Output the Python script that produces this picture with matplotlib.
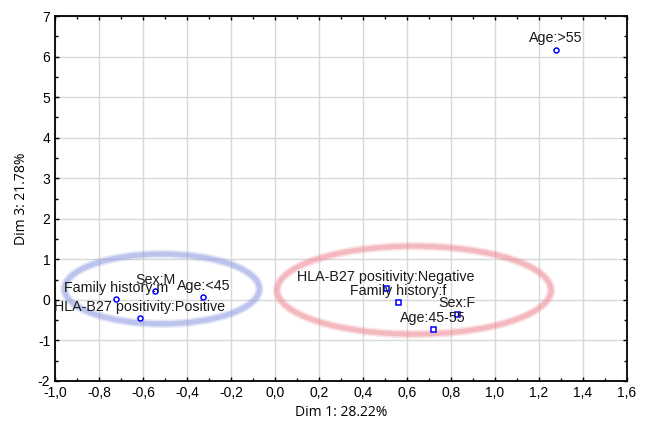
import matplotlib
matplotlib.use("Agg")
import matplotlib.pyplot as plt
from matplotlib.patches import Ellipse
from matplotlib.ticker import MultipleLocator, FuncFormatter

# coordinates of the categories (Dim 1, Dim 3)
circle_labels = ["Family history:m", "Sex:M", "Age:<45", "HLA-B27 positivity:Positive", "Age:>55"]
circle_x = [-0.723, -0.544, -0.326, -0.614, 1.277]
circle_y = [0.02, 0.217, 0.076, -0.456, 6.17]

square_labels = ["HLA-B27 positivity:Negative", "Family history:f", "Sex:F", "Age:45-55"]
square_x = [0.505, 0.558, 0.826, 0.717]
square_y = [0.298, -0.062, -0.350, -0.712]

x_label = "Dim 1: 28.22%"
y_label = "Dim 3: 21.78%"

plt.rcParams['font.family'] = ['Liberation Sans', 'DejaVu Sans']

fig = plt.figure(figsize=(6.46, 4.30), dpi=100)
ax = fig.add_axes([55 / 646, 1 - 381 / 430, (627 - 55) / 646, (381 - 16) / 430])

ax.set_xlim(-1.0, 1.6)
ax.set_ylim(-2, 7)
ax.xaxis.set_major_locator(MultipleLocator(0.2))
ax.xaxis.set_minor_locator(MultipleLocator(0.1))
ax.yaxis.set_major_locator(MultipleLocator(1))
ax.yaxis.set_minor_locator(MultipleLocator(0.5))
ax.xaxis.set_major_formatter(FuncFormatter(lambda v, p: f"{v:.1f}".replace(".", ",").replace("-0,0", "0,0")))
ax.yaxis.set_major_formatter(FuncFormatter(lambda v, p: f"{int(round(v))}"))
ax.grid(True, which='major', color='#d8d8d8', linewidth=1.0)
ax.set_axisbelow(True)
ax.tick_params(which='both', direction='in', top=True, right=True, labelsize=10, colors='black')
ax.tick_params(which='major', length=3, width=1)
ax.tick_params(which='minor', length=2, width=1)
for s in ax.spines.values():
    s.set_linewidth(1.3)

# cluster ellipses
for center, w, h, col in [((-0.514, 0.27), 0.886, 1.72, '#8f9be0'),
                          ((0.632, 0.24), 1.245, 2.17, '#ee8a92')]:
    for lw, a in [(6, 0.25), (3.5, 0.45)]:
        ax.add_patch(Ellipse(center, w, h, fill=False, edgecolor=col, linewidth=lw, alpha=a))

ax.plot(circle_x, circle_y, linestyle='none', marker='o', markersize=3.6,
        markerfacecolor='white', markeredgecolor='#0000ff', markeredgewidth=1.1)
ax.plot(square_x, square_y, linestyle='none', marker='s', markersize=3.6,
        markerfacecolor='white', markeredgecolor='#0000ff', markeredgewidth=1.1)

for lab, x, y in zip(circle_labels + square_labels, circle_x + square_x, circle_y + square_y):
    ax.annotate(lab, (x, y), xytext=(0, 3), textcoords='offset points',
                ha='center', va='bottom', fontsize=10.3, color='#1a1a1a')

ax.set_xlabel(x_label, family=['Open Sans', 'DejaVu Sans'], fontsize=10, labelpad=4)
ax.set_ylabel(y_label, family=['Open Sans', 'DejaVu Sans'], fontsize=10, labelpad=6)

fig.savefig("out.png", dpi=100)
